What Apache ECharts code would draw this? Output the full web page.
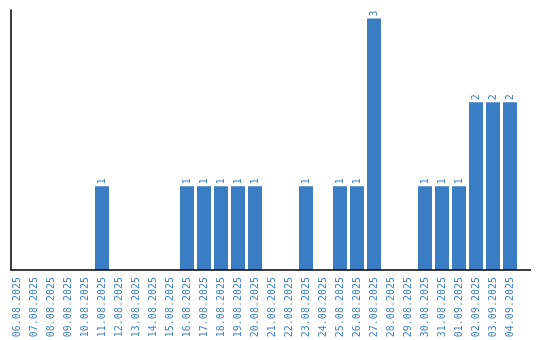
<!DOCTYPE html>
<html><head><meta charset="utf-8">
<script src="https://cdn.jsdelivr.net/npm/echarts@6/dist/echarts.min.js"></script>
<style>html,body{margin:0;padding:0;background:#fff}#c{width:540px;height:340px}</style>
</head><body><div id="c"></div>
<script>
const categories = ["06.08.2025","07.08.2025","08.08.2025","09.08.2025","10.08.2025","11.08.2025","12.08.2025","13.08.2025","14.08.2025","15.08.2025","16.08.2025","17.08.2025","18.08.2025","19.08.2025","20.08.2025","21.08.2025","22.08.2025","23.08.2025","24.08.2025","25.08.2025","26.08.2025","27.08.2025","28.08.2025","29.08.2025","30.08.2025","31.08.2025","01.09.2025","02.09.2025","03.09.2025","04.09.2025"];
const values = [0,0,0,0,0,1,0,0,0,0,1,1,1,1,1,0,0,1,0,1,1,3,0,0,1,1,1,2,2,2];
const chart = echarts.init(document.getElementById('c'));
chart.setOption({
  animation:false,
  grid:{left:8.5,width:510,top:10,height:260,containLabel:false,outerBoundsMode:'none'},
  xAxis:{type:'category',data:categories,
    axisLine:{show:false},axisTick:{show:false},
    axisLabel:{rotate:90,interval:0,color:'#4585c6',fontFamily:'DejaVu Sans Mono',fontSize:10,margin:7}},
  yAxis:{type:'value',min:0,max:3.1,offset:-2.5,splitLine:{show:false},axisLabel:{show:false},axisTick:{show:false},
    axisLine:{show:true,lineStyle:{color:'#000',width:1.5}}},
  graphic:[{type:'line',shape:{x1:10.5,y1:270,x2:531,y2:270},style:{stroke:'#000',lineWidth:1.5},z:10}],
  series:[{type:'bar',data:values,barWidth:14,itemStyle:{color:'#3b7dc2'},
    label:{show:true,position:'top',rotate:90,align:'left',verticalAlign:'middle',distance:2,color:'#4585c6',fontFamily:'DejaVu Sans Mono',fontSize:10,
      formatter:p=>p.value>0?String(p.value):''}}]
});
</script></body></html>
